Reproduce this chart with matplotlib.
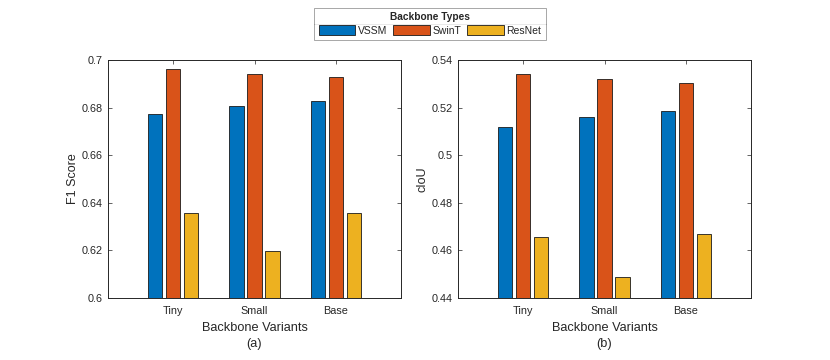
import matplotlib
matplotlib.use("Agg")
import matplotlib.pyplot as plt
import numpy as np
from matplotlib.lines import Line2D

plt.rcParams['font.family'] = ['Liberation Sans', 'DejaVu Sans']

variants = ["Tiny", "Small", "Base"]
series_names = ["VSSM", "SwinT", "ResNet"]
f1_vssm = [0.6772, 0.6805, 0.6826]
f1_swint = [0.6961, 0.6942, 0.6930]
f1_resnet = [0.6356, 0.6197, 0.6356]
ciou_vssm = [0.5120, 0.5159, 0.5184]
ciou_swint = [0.5341, 0.5319, 0.5302]
ciou_resnet = [0.4658, 0.4490, 0.4667]
f1_yticks = [0.6, 0.62, 0.64, 0.66, 0.68, 0.7]
f1_yticklabels = ["0.6", "0.62", "0.64", "0.66", "0.68", "0.7"]
ciou_yticks = [0.44, 0.46, 0.48, 0.5, 0.52, 0.54]
ciou_yticklabels = ["0.44", "0.46", "0.48", "0.5", "0.52", "0.54"]

colors = ["#0072BD", "#D95319", "#EDB120"]
axc = "#262626"

fig = plt.figure(figsize=(8.3, 3.6), dpi=100)
axes = [fig.add_axes([108/830, 62/360, 293/830, 238/360]),
        fig.add_axes([458/830, 62/360, 293/830, 238/360])]

panels = [
    (axes[0], [f1_vssm, f1_swint, f1_resnet], f1_yticks, f1_yticklabels, "F1 Score", "(a)"),
    (axes[1], [ciou_vssm, ciou_swint, ciou_resnet], ciou_yticks, ciou_yticklabels, "cIoU", "(b)"),
]

x = np.arange(1, len(variants) + 1)
offs = [-0.222, 0.0, 0.222]
width = 0.177
handles = []
for ax, data, yt, ytl, ylab, sub in panels:
    hs = []
    for i, vals in enumerate(data):
        b = ax.bar(x + offs[i], vals, width, color=colors[i], edgecolor="#1a1a1a",
                   linewidth=0.6, label=series_names[i], zorder=2)
        hs.append(b)
    handles = hs
    ax.set_xlim(0.2, 3.8)
    ax.set_ylim(yt[0], yt[-1])
    ax.set_xticks(x)
    ax.set_xticklabels(variants)
    ax.set_yticks(yt)
    ax.set_yticklabels(ytl)
    ax.tick_params(direction="in", length=3, width=0.5, colors=axc, labelsize=7.8,
                   top=True, right=True, pad=4)
    ax.tick_params(axis="x", pad=6)
    for sp in ax.spines.values():
        sp.set_color(axc)
        sp.set_linewidth(0.7)
    ax.set_ylabel(ylab, fontsize=9, color=axc, labelpad=2)
    ax.set_xlabel("Backbone Variants\n" + sub, fontsize=9.2,
                  color=axc, linespacing=1.45, labelpad=4)

leg = fig.legend(handles=handles, labels=series_names, ncol=3,
                 loc="upper center", bbox_to_anchor=(430/830, 1 - 8/360),
                 title="Backbone Types", fontsize=7.5,
                 title_fontproperties={"weight": "bold", "size": 7.3},
                 frameon=True, fancybox=False, edgecolor="#7f7f7f",
                 handlelength=3.5, handleheight=1.05, handletextpad=0.25,
                 columnspacing=0.6, borderpad=0.4, borderaxespad=0,
                 labelspacing=0.3)
leg.get_frame().set_linewidth(0.6)
leg.get_title().set_color(axc)
for t in leg.get_texts():
    t.set_color(axc)

fig.canvas.draw()
r = fig.canvas.get_renderer()
lb = leg.get_window_extent(r)
tb = leg.get_title().get_window_extent(r)
ysep = (tb.y0 - 2) / fig.bbox.height
fig.add_artist(Line2D([lb.x0 / fig.bbox.width, lb.x1 / fig.bbox.width], [ysep, ysep],
                      transform=fig.transFigure, color="#7f7f7f", linewidth=0.6))

fig.savefig("out.png", dpi=100)
